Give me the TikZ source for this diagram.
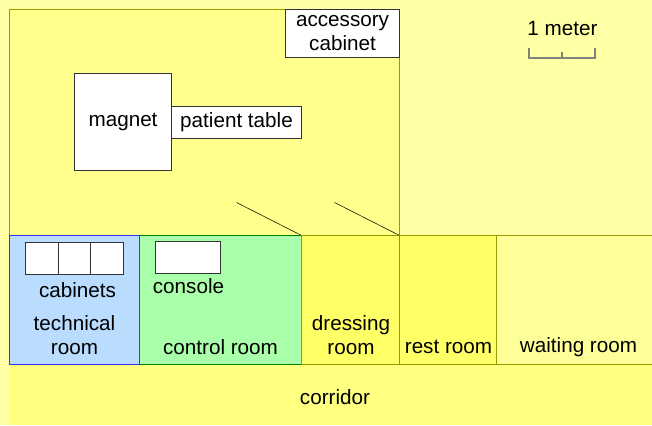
\documentclass[tikz,border=0pt]{standalone}
\usepackage{fontspec}
\setmainfont{Liberation Sans}
\definecolor{outer}{HTML}{FFFFA6}
\definecolor{mainroom}{HTML}{FFFF8C}
\definecolor{corridorfill}{HTML}{FFFF80}
\definecolor{yellowroom}{HTML}{FFFF66}
\definecolor{waitfill}{HTML}{FFFF99}
\definecolor{techfill}{HTML}{B9DCFF}
\definecolor{controlfill}{HTML}{AAFFAA}
\definecolor{wall}{HTML}{999900}
\begin{document}
\begin{tikzpicture}[x=0.75pt, y=-0.75pt, font=\fontsize{15.5pt}{18pt}\selectfont, align=center]

    % Styles
    \tikzstyle{room} = [rectangle, draw=wall, line width=0.5pt, anchor=north west, inner sep=0pt]
    \tikzstyle{box} = [rectangle, draw=black!80, fill=white, line width=0.5pt, anchor=north west, inner sep=0pt]
    \tikzstyle{door} = [draw=black, line width=0.4pt]
    \tikzstyle{scalebar} = [draw=black!50, line width=1.3pt]

    % Background
    \fill[outer] (0,0) rectangle (652,425);
    \useasboundingbox (0,0) rectangle (652,425);
    \fill[corridorfill] (9.5,365) rectangle (652,425);

    % Rooms
    \node[room, fill=mainroom, minimum width=292.5pt, minimum height=170.25pt] (magnet_room) at (9.2,8.7) {};
    \node[room, fill=techfill, draw=blue!80, minimum width=97.5pt, minimum height=96.75pt] (technical_room) at (9.2,235.3) {};
    \node[room, fill=controlfill, draw=green!50!black, minimum width=121.5pt, minimum height=96.75pt] (control_room) at (139.2,235.3) {};
    \node[room, fill=yellowroom, minimum width=73.5pt, minimum height=96.75pt] (dressing_room) at (301.2,235.3) {};
    \node[room, fill=yellowroom, minimum width=72.75pt, minimum height=96.75pt] (rest_room) at (399.2,235.3) {};
    \node[room, fill=waitfill, minimum width=120pt, minimum height=96.75pt] (waiting_room) at (496.2,235.3) {};

    % Equipment
    \node[box, minimum width=72.75pt, minimum height=72.75pt] (magnet) at (74.2,72.7) {};
    \node at (magnet.center) (magnet_label) {magnet};
    \node[box, minimum width=97.5pt, minimum height=24pt] (patient_table) at (171.2,105.7) {};
    \node at (patient_table.center) (table_label) {patient table};
    \node[box, minimum width=85.5pt, minimum height=36pt] (accessory_cabinet) at (285.2,8.7) {};
    \node at (accessory_cabinet.center) (accessory_label) {accessory\\cabinet};

    % Cabinets and console
    \node[box, minimum width=24.75pt, minimum height=24pt] (cabinet_a) at (25.2,241.7) {};
    \node[box, minimum width=24.75pt, minimum height=24pt] (cabinet_b) at (57.7,241.7) {};
    \node[box, minimum width=24.75pt, minimum height=24pt] (cabinet_c) at (90.2,241.7) {};
    \node[box, minimum width=48.75pt, minimum height=24pt] (console) at (155.2,240.7) {};

    % Labels
    \node (cabinets_label) at (77.5,290) {cabinets};
    \node (console_label) at (188.5,286) {console};
    \node (technical_label) at (74.5,335) {technical\\room};
    \node (control_label) at (220.5,347) {control room};
    \node (dressing_label) at (351,335) {dressing\\room};
    \node (rest_label) at (448.5,347) {rest room};
    \node (waiting_label) at (578.5,347) {waiting room};
    \node (corridor_label) at (335,397) {corridor};
    \node (meter_label) at (562.5,28) {1 meter};

    % Doors
    \coordinate (door_a) at (236.5,202.5);
    \coordinate (door_b) at (334.5,202.5);
    \draw[door] (door_a) -- (dressing_room.north west);
    \draw[door] (door_b) -- (rest_room.north west);

    % Scale
    \draw[scalebar] (529,48) -- (529,58) -- (595,58) -- (595,48);
    \draw[scalebar] (562,52) -- (562,58);

\end{tikzpicture}
\end{document}
